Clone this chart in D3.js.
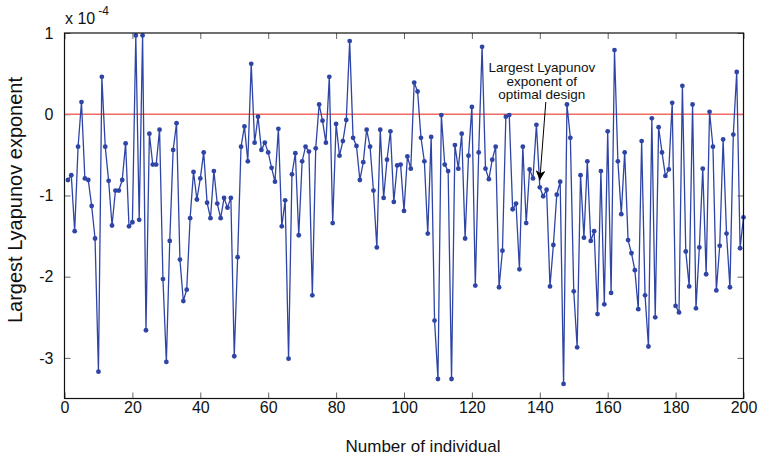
<!DOCTYPE html>
<html>
<head>
<meta charset="utf-8">
<script src="https://cdn.jsdelivr.net/npm/d3@7"></script>
<style>
    body { margin: 0; background: #fff; }
    svg text { font-family: "Liberation Sans", Arial, Helvetica, sans-serif; fill: #111; }
</style>
</head>
<body>
<div id="chart_div"></div>
<script>

// largest Lyapunov exponent of each individual (x 10^-4), individuals 1..200
var lyapunov = [
    -0.81, -0.75, -1.44, -0.40, 0.15, -0.79, -0.81, -1.13, -1.53, -3.17,
    0.46, -0.40, -0.82, -1.37, -0.94, -0.94, -0.81, -0.36, -1.38, -1.33,
    0.97, -1.30, 0.97, -2.66, -0.24, -0.62, -0.62, -0.19, -2.03, -3.05,
    -1.56, -0.44, -0.11, -1.79, -2.30, -2.16, -1.28, -0.71, -1.05, -0.79,
    -0.47, -1.09, -1.28, -0.70, -1.10, -1.28, -1.03, -1.15, -1.03, -2.98,
    -1.76, -0.40, -0.15, -0.58, 0.62, -0.35, -0.03, -0.44, -0.35, -0.47,
    -0.66, -0.83, -0.18, -1.38, -1.06, -3.01, -0.74, -0.48, -1.49, -0.58,
    -0.40, -0.46, -2.23, -0.42, 0.12, -0.08, -0.35, 0.46, -1.34, -0.12,
    -0.51, -0.33, -0.07, 0.90, -0.29, -0.39, -0.81, -0.59, -0.19, -0.40,
    -0.94, -1.64, -0.19, -1.03, -0.56, -0.21, -1.08, -0.63, -0.62, -1.19,
    -0.52, -0.67, 0.39, 0.28, -0.29, -0.58, -1.47, -0.28, -2.54, -3.26,
    -0.01, -0.62, -0.70, -3.26, -0.38, -0.67, -0.24, -1.53, -0.51, 0.09,
    -2.11, -0.47, 0.83, -0.67, -0.80, -0.56, -0.40, -2.13, -1.68, -0.03,
    -0.01, -1.17, -1.10, -1.91, -0.40, -1.34, -0.68, -0.79, -0.13, -0.90,
    -1.01, -0.93, -2.12, -1.61, -0.99, -0.83, -3.32, 0.12, -0.29, -2.18,
    -2.87, -0.75, -1.52, -0.58, -1.56, -1.44, -2.46, -0.70, -2.34, -0.21,
    -2.20, 0.79, -0.58, -1.23, -0.47, -1.55, -1.71, -1.92, -2.40, -0.33,
    -2.23, -2.86, -0.05, -2.50, -0.16, -0.47, -0.76, -0.68, 0.14, -2.36,
    -2.44, 0.35, -1.69, -2.12, 0.12, -2.39, -1.64, -0.67, -1.97, 0.03,
    -0.40, -2.17, -1.62, -0.31, -1.47, -2.13, -0.25, 0.52, -1.65, -1.27
];

var xTicks = [0, 20, 40, 60, 80, 100, 120, 140, 160, 180, 200];
var yTicks = [1, 0, -1, -2, -3];
var optimalIndividual = 140;
var noteLines = ["Largest Lyapunov", "exponent of", "optimal design"];

var points = lyapunov.map(function (v, i) {
    return {x: i + 1, y: v};
});

var margin = {left: 64.5, top: 33, right: 15.5, bottom: 59.5};
var width = 759 - margin.left - margin.right;
var height = 458 - margin.top - margin.bottom;

var svg = d3.select("#chart_div").append("svg")
    .attr("width", 759)
    .attr("height", 458);

var defs = svg.append("defs");
defs.append("marker")
    .attr("id", "arrow")
    .attr("viewBox", "0 0 10 10")
    .attr("refX", 10)
    .attr("refY", 5)
    .attr("markerWidth", 10)
    .attr("markerHeight", 10)
    .attr("markerUnits", "userSpaceOnUse")
    .attr("orient", "auto")
    .append("path")
    .attr("d", "M0,0 L10,5 L0,10 L3,5 Z")
    .attr("fill", "#000");

var g = svg.append("g")
    .attr("transform", "translate(" + margin.left + "," + margin.top + ")");

var x = d3.scaleLinear().domain([0, 200]).range([0, width]);
var y = d3.scaleLinear().domain([-3.5, 1]).range([height, 0]);

// plain labels, hyphen minus like the original
var plain = function (d) { return String(d); };

// axes, ticks pointing inwards
g.append("g")
    .attr("transform", "translate(0," + height + ")")
    .call(d3.axisBottom(x).tickValues(xTicks).tickSize(-6).tickPadding(3).tickFormat(plain));
g.append("g")
    .call(d3.axisLeft(y).tickValues(yTicks).tickSize(-6).tickPadding(11).tickFormat(plain));
g.append("g")
    .call(d3.axisTop(x).tickValues(xTicks).tickSize(-6).tickFormat(""));
g.append("g")
    .attr("transform", "translate(" + width + ",0)")
    .call(d3.axisRight(y).tickValues(yTicks).tickSize(-6).tickFormat(""));

g.selectAll(".domain").remove();
g.selectAll(".tick line").attr("stroke", "#666").attr("stroke-width", 1);
g.selectAll(".tick text")
    .attr("fill", "#111")
    .style("font-size", "16px")
    .style("font-family", "\"Liberation Sans\", Arial, sans-serif");

// zero reference line
g.append("line")
    .attr("x1", 0)
    .attr("x2", width)
    .attr("y1", y(0))
    .attr("y2", y(0))
    .attr("stroke", "#f06a64")
    .attr("stroke-width", 1.6);

var line = d3.line()
    .x(function (d) { return x(d.x); })
    .y(function (d) { return y(d.y); });

g.append("path")
    .datum(points)
    .attr("fill", "none")
    .attr("stroke", "#2f45a6")
    .attr("stroke-width", 1.3)
    .attr("d", line);

g.selectAll(".dot")
    .data(points)
    .enter().append("circle")
    .attr("class", "dot")
    .attr("cx", function (d) { return x(d.x); })
    .attr("cy", function (d) { return y(d.y); })
    .attr("r", 2.4)
    .attr("fill", "#2f45a6");

// frame
g.append("rect")
    .attr("x", 0)
    .attr("y", 0)
    .attr("width", width)
    .attr("height", height)
    .attr("fill", "none")
    .attr("stroke", "#111")
    .attr("stroke-width", 1.2);

// annotation
var opt = points[optimalIndividual - 1];
var note = g.append("text")
    .attr("text-anchor", "middle")
    .style("font-size", "13.5px");
note.selectAll("tspan")
    .data(noteLines)
    .enter().append("tspan")
    .attr("x", x(opt.x) + 2)
    .attr("y", function (d, i) { return 39 + i * 13.5; })
    .text(function (d) { return d; });

g.append("line")
    .attr("x1", x(opt.x) + 6)
    .attr("y1", 69)
    .attr("x2", x(opt.x))
    .attr("y2", y(opt.y) - 7)
    .attr("stroke", "#000")
    .attr("stroke-width", 1)
    .attr("marker-end", "url(#arrow)");

// axis labels
svg.append("text")
    .attr("x", 423)
    .attr("y", 452)
    .attr("text-anchor", "middle")
    .style("font-size", "17px")
    .text("Number of individual");

svg.append("text")
    .attr("transform", "translate(21.5,200) rotate(-90)")
    .attr("text-anchor", "middle")
    .style("font-size", "20px")
    .text("Largest Lyapunov exponent");

var mult = svg.append("text")
    .attr("x", 65)
    .attr("y", 24)
    .style("font-size", "16px");
mult.append("tspan").text("x 10");
mult.append("tspan")
    .attr("dx", 3)
    .attr("dy", -9)
    .style("font-size", "12px")
    .text("-4");

</script>
</body>
</html>
